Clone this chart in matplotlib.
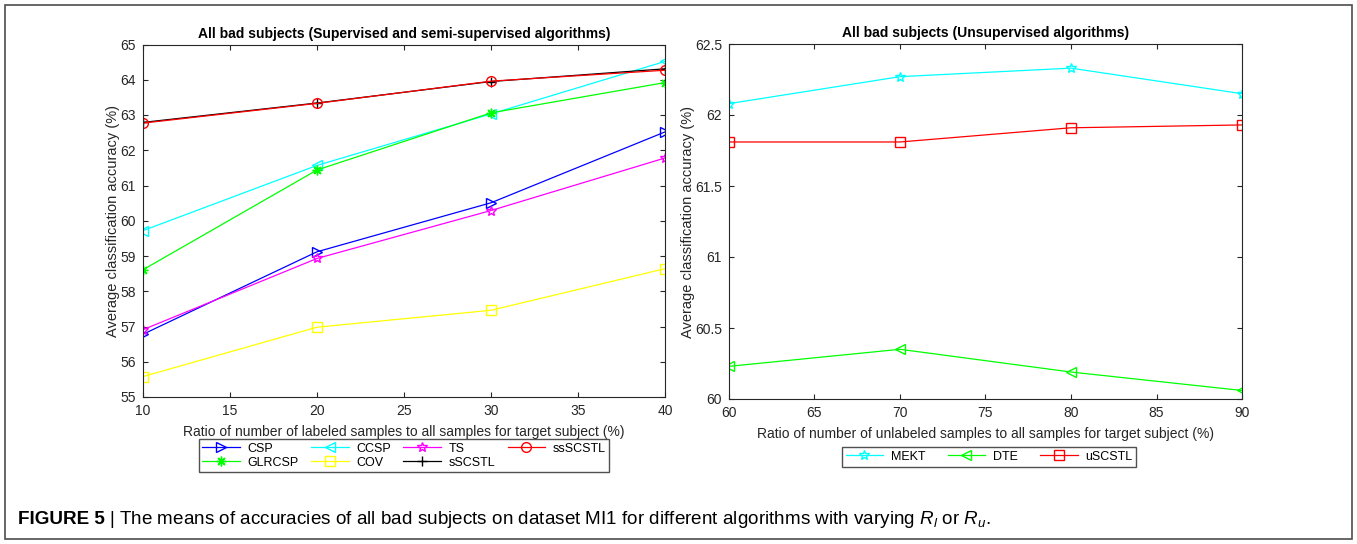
import numpy as np
import matplotlib.pyplot as plt
from matplotlib.patches import Rectangle

plt.rcParams['font.family'] = ['Liberation Sans', 'DejaVu Sans']
plt.rcParams['mathtext.fontset'] = 'custom'
plt.rcParams['mathtext.it'] = 'Liberation Sans:italic'
plt.rcParams['mathtext.rm'] = 'Liberation Sans'

# left panel: labeled ratio
ratio_l = [10, 20, 30, 40]
csp = [56.78, 59.12, 60.51, 62.52]
ccsp = [59.72, 61.57, 63.03, 64.52]
ts = [56.91, 58.93, 60.29, 61.78]
ss_scstl = [62.77, 63.33, 63.96, 64.27]
glrcsp = [58.61, 61.44, 63.06, 63.92]
cov = [55.58, 56.98, 57.46, 58.64]
s_scstl = [62.79, 63.34, 63.95, 64.31]

# right panel: unlabeled ratio
ratio_u = [60, 70, 80, 90]
mekt = [62.08, 62.27, 62.33, 62.15]
dte = [60.23, 60.35, 60.19, 60.06]
u_scstl = [61.81, 61.81, 61.91, 61.93]

axcol = (0.15, 0.15, 0.15)
asterisk = (8, 2, 0)
BLUE, CYAN, MAG, GREEN, YEL, RED = (0, 0, 1), (0, 1, 1), (1, 0, 1), (0, 1, 0), (1, 1, 0), (1, 0, 0)

def matlab_axes(ax):
	for s in ax.spines.values():
		s.set_color(axcol)
		s.set_linewidth(0.8)
	ax.tick_params(direction='in', top=True, right=True, length=3.5, width=0.8,
	               colors=axcol, labelsize=10, pad=5)

fig = plt.figure(figsize=(13.57, 5.44), dpi=100)
fig.add_artist(Rectangle((5/1357, 5/544), 1347/1357, 534/544, transform=fig.transFigure,
                         fill=False, edgecolor=(0.3, 0.3, 0.3), linewidth=1.2))

ax1 = fig.add_axes([143/1357, 147/544, 522/1357, 352.5/544])
kw = dict(lw=0.9, markersize=7, markerfacecolor='none')
h_csp, = ax1.plot(ratio_l, csp, color=BLUE, marker='>', label='CSP', **kw)
h_ccsp, = ax1.plot(ratio_l, ccsp, color=CYAN, marker='<', label='CCSP', **kw)
h_ts, = ax1.plot(ratio_l, ts, color=MAG, marker='*', label='TS', **kw)
h_glr, = ax1.plot(ratio_l, glrcsp, color=GREEN, marker=asterisk, label='GLRCSP', **kw)
h_cov, = ax1.plot(ratio_l, cov, color=YEL, marker='s', label='COV', **kw)
h_s, = ax1.plot(ratio_l, s_scstl, color='k', marker='+', label='sSCSTL', **kw)
h_ss, = ax1.plot(ratio_l, ss_scstl, color=RED, marker='o', label='ssSCSTL', **kw)
ax1.set_xlim(10, 40)
ax1.set_ylim(55, 65)
ax1.set_xticks(np.arange(10, 41, 5))
ax1.set_yticks(np.arange(55, 66, 1))
matlab_axes(ax1)
ax1.set_title('All bad subjects (Supervised and semi-supervised algorithms)',
              fontsize=10, fontweight='bold', pad=5)
ax1.set_xlabel('Ratio of number of labeled samples to all samples for target subject (%)',
               fontsize=10, color=axcol, labelpad=5)
ax1.set_ylabel('Average classification accuracy (%)', fontsize=10.5, color=axcol, labelpad=0)
order = [h_csp, h_glr, h_ccsp, h_cov, h_ts, h_s, h_ss]
leg1 = fig.legend(handles=order, loc='upper center', bbox_to_anchor=(404/1357, 105/544),
                  ncol=4, fontsize=9, frameon=True, fancybox=False, edgecolor=axcol,
                  handlelength=3.0, columnspacing=1.0, borderaxespad=0, borderpad=0.3,
                  labelspacing=0.15, handletextpad=0.6)
leg1.get_frame().set_linewidth(1.0)

ax2 = fig.add_axes([729/1357, 145/544, 513/1357, 355/544])
h_mekt, = ax2.plot(ratio_u, mekt, color=CYAN, marker='*', label='MEKT', **kw)
h_dte, = ax2.plot(ratio_u, dte, color=GREEN, marker='<', label='DTE', **kw)
h_u, = ax2.plot(ratio_u, u_scstl, color=RED, marker='s', label='uSCSTL', **kw)
ax2.set_xlim(60, 90)
ax2.set_ylim(60, 62.5)
ax2.set_xticks(np.arange(60, 91, 5))
ax2.set_yticks([60, 60.5, 61, 61.5, 62, 62.5])
ax2.set_yticklabels(['60', '60.5', '61', '61.5', '62', '62.5'])
matlab_axes(ax2)
ax2.set_title('All bad subjects (Unsupervised algorithms)', fontsize=10, fontweight='bold', pad=5)
ax2.set_xlabel('Ratio of number of unlabeled samples to all samples for target subject (%)',
               fontsize=10, color=axcol, labelpad=5)
ax2.set_ylabel('Average classification accuracy (%)', fontsize=10.5, color=axcol, labelpad=0)
leg2 = fig.legend(handles=[h_mekt, h_dte, h_u], loc='upper center',
                  bbox_to_anchor=(989/1357, 97/544), ncol=3, fontsize=9, frameon=True,
                  fancybox=False, edgecolor=axcol, handlelength=3.0, columnspacing=1.8,
                  borderaxespad=0, borderpad=0.3, handletextpad=0.6)
leg2.get_frame().set_linewidth(1.0)

# caption
t = fig.text(18/1357, 1 - 519/544, 'FIGURE 5', fontsize=13.6, fontweight='bold', va='center')
fig.canvas.draw()
bb = t.get_window_extent()
fig.text(bb.x1/1357 + 0.003, 1 - 519/544,
         '| The means of accuracies of all bad subjects on dataset MI1 for different algorithms with varying $R_l$ or $R_u$.',
         fontsize=13.6, va='center')

fig.savefig('out.png', dpi=100)
